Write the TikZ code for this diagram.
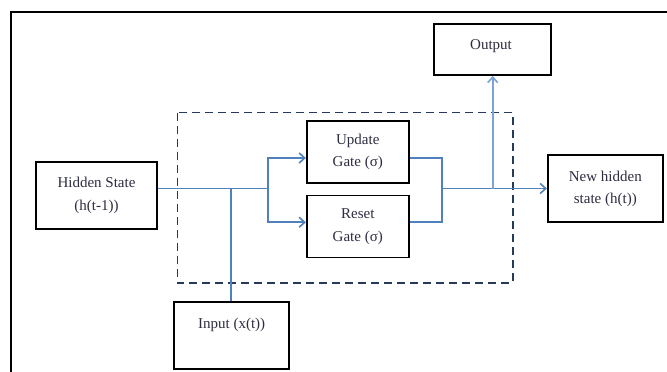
\documentclass[tikz,border=0pt]{standalone}
\usepackage{fontspec}
\setmainfont{Liberation Serif}
\usetikzlibrary{arrows.meta}
\definecolor{flowblue}{RGB}{79,129,189}
\definecolor{lightflow}{RGB}{125,162,214}
\definecolor{dashnavy}{RGB}{38,58,92}
\definecolor{txt}{RGB}{45,45,65}
\tikzset{
  box/.style={draw=black, line width=1.9pt, rectangle, inner sep=0pt, align=center,
    text=txt, font=\fontsize{15}{22.5}\selectfont},
  lbl/.style={text=txt, font=\fontsize{15}{22.5}\selectfont, inner sep=0pt},
  flow/.style={draw=flowblue, line width=1.8pt},
  arr/.style={-{Straight Barb[length=5.5pt,width=10pt,line width=1.6pt]}},
  grpbox/.style={draw=dashnavy, line width=1.8pt, dash pattern=on 8pt off 5pt}
}
\begin{document}
\begin{tikzpicture}[x=1pt,y=-1pt]
\useasboundingbox (0,0) rectangle (667,372);
\fill[white] (0,0) rectangle (667,372);
% outer frame (open at right and bottom)
\draw[line width=2.6pt] (11,380) -- (11,12) -- (680,12);
% dashed group
\draw[grpbox] (177.5,112.5) rectangle (512.7,282.7);
% boxes
\node[box, minimum width=121pt, minimum height=67pt] (hidden) at (96.5,195.5) {Hidden State\\(h(t-1))};
\node[box, minimum width=102pt, minimum height=62pt] (update) at (357.8,152) {Update\\Gate (σ)};
\node[box, minimum width=102pt, minimum height=62pt] (reset) at (357.8,226.5) {Reset\\Gate (σ)};
\node[box, minimum width=117pt, minimum height=51pt] (output) at (492.5,49.5) {};
\node[lbl] (outlbl) at (491,46) {Output};
\node[box, minimum width=115pt, minimum height=67pt] (input) at (231.7,335.8) {};
\node[lbl] (inlbl) at (231.7,325) {Input (x(t))};
\node[box, minimum width=115pt, minimum height=67pt] (newh) at (605.3,188.7) {New hidden\\state (h(t))};
% junction coordinates
\coordinate (j1) at (231,188.5);
\coordinate (split) at (268.3,188.5);
\coordinate (su) at (268.3,158);
\coordinate (sr) at (268.3,222.3);
\coordinate (mu) at (442,158);
\coordinate (mr) at (442,222.3);
\coordinate (m) at (442,188.5);
\coordinate (o) at (492.7,188.5);
% connectors
\draw[flow] (hidden.east |- j1) -- (split);
\draw[flow] (input.north -| j1) -- (j1);
\draw[flow, arr] (split) -- (su) -- (update.west |- su);
\draw[flow, arr] (split) -- (sr) -- (reset.west |- sr);
\draw[flow] (update.east |- mu) -- (mu) -- (mr) -- (reset.east |- mr);
\draw[flow, arr] (m) -- (newh.west |- m);
\draw[draw=lightflow, line width=2.3pt, -{Straight Barb[length=5.5pt,width=10pt,line width=1.6pt]}] (o) -- (output.south -| o);
\end{tikzpicture}
\end{document}
